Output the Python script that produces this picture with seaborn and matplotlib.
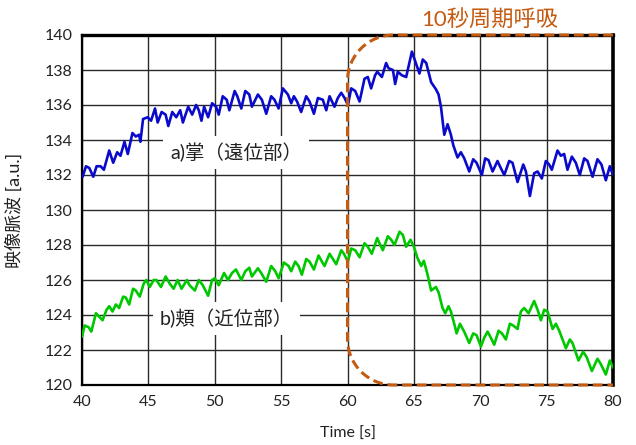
import matplotlib
matplotlib.use("Agg")
import matplotlib.pyplot as plt
from matplotlib.path import Path
from matplotlib.patches import PathPatch
import seaborn as sns
import pandas as pd

# --- palm (distal) video pulse wave ---
palm_t = [40.05, 40.3, 40.55, 40.85, 41.1, 41.4, 41.65, 42.05, 42.35, 42.65, 42.9, 43.2,
          43.45, 43.8, 44.05, 44.3, 44.4, 44.6, 44.95, 45.2, 45.5, 45.7, 46.0, 46.3,
          46.5, 46.8, 47.1, 47.4, 47.6, 48.0, 48.3, 48.6, 48.8, 49.0, 49.2, 49.5,
          49.8, 50.1, 50.3, 50.6, 50.9, 51.1, 51.5, 51.7, 52.0, 52.3, 52.6, 52.8,
          53.25, 53.55, 53.88, 54.25, 54.5, 54.81, 55.13, 55.51, 55.76, 55.96, 56.2, 56.51,
          56.89, 57.14, 57.47, 57.77, 58.14, 58.4, 58.65, 59.02, 59.27, 59.53, 59.78, 60.03,
          60.28, 60.58, 60.91, 61.28, 61.53, 61.78, 62.08, 62.24, 62.59, 62.91, 63.09, 63.42,
          63.59, 63.79, 64.09, 64.42, 64.85, 65.1, 65.42, 65.67, 65.93, 66.3, 66.66, 66.86,
          67.04, 67.29, 67.54, 67.79, 67.97, 68.29, 68.54, 68.79, 69.17, 69.47, 69.72, 70.12,
          70.37, 70.62, 70.93, 71.3, 71.48, 71.81, 72.18, 72.43, 72.81, 73.24, 73.44, 73.74,
          74.06, 74.32, 74.64, 74.94, 75.19, 75.39, 75.82, 76.07, 76.32, 76.57, 76.9, 77.2,
          77.5, 77.83, 78.08, 78.46, 78.83, 79.13, 79.46, 79.76, 80.0]
palm_v = [131.9, 132.5, 132.4, 131.9, 132.5, 132.5, 132.3, 133.4, 132.7, 133.3, 133.1, 133.9,
          133.2, 134.4, 134.2, 134.3, 133.9, 135.2, 135.3, 135.1, 135.8, 135.0, 135.6, 135.45,
          134.8, 135.6, 135.3, 135.7, 135.0, 135.9, 135.45, 136.0, 135.7, 135.1, 135.9, 135.3,
          136.1, 135.9, 135.45, 136.5, 136.3, 135.7, 136.8, 136.5, 135.8, 136.8, 136.6, 135.9,
          136.6, 136.3, 135.5, 136.5, 136.3, 135.8, 136.95, 136.6, 136.1, 136.5, 136.2, 135.6,
          136.5, 136.2, 135.5, 136.4, 136.3, 135.7, 136.5, 135.9, 136.4, 136.7, 136.4, 136.0,
          136.95, 136.8, 136.2, 137.5, 137.6, 136.95, 137.7, 137.9, 137.6, 138.4, 138.1, 138.0,
          137.2, 137.9, 137.7, 137.6, 139.05, 138.5, 137.8, 138.6, 138.4, 137.3, 136.9, 136.6,
          135.9, 134.3, 134.9, 134.3, 133.7, 133.0, 133.3, 132.96, 132.2, 132.9, 132.7, 132.0,
          132.95, 132.85, 132.2, 132.8, 132.5, 132.0, 132.8, 132.7, 131.6, 132.6, 132.2, 130.8,
          132.1, 132.2, 131.8, 132.8, 132.6, 132.3, 133.4, 133.1, 133.2, 132.3, 133.05, 132.7,
          132.0, 132.95, 132.8, 131.9, 132.9, 132.6, 131.7, 132.5, 132.0]

# --- cheek (proximal) video pulse wave ---
cheek_t = [40.0, 40.2, 40.5, 40.7, 41.05, 41.3, 41.55, 41.85, 42.05, 42.3, 42.55, 42.8,
           43.1, 43.3, 43.55, 43.85, 44.05, 44.35, 44.65, 44.85, 45.1, 45.4, 45.6, 45.95,
           46.3, 46.6, 46.9, 47.2, 47.5, 47.9, 48.1, 48.5, 48.8, 49.1, 49.5, 49.8,
           50.0, 50.3, 50.7, 51.0, 51.3, 51.6, 52.0, 52.3, 52.6, 52.8,
           53.25, 53.5, 53.88, 54.25, 54.56, 54.81, 55.21, 55.56, 55.76, 56.06, 56.31, 56.56,
           56.89, 57.14, 57.47, 57.82, 58.07, 58.27, 58.65, 58.9, 59.15, 59.53, 59.73, 60.03,
           60.28, 60.58, 60.91, 61.28, 61.53, 61.83, 62.24, 62.41, 62.66, 63.04, 63.29, 63.54,
           63.92, 64.17, 64.42, 64.75, 65.0, 65.25, 65.55, 65.75, 66.0, 66.3,
           66.66, 66.86, 67.16, 67.36, 67.61, 67.79, 68.04, 68.22, 68.47, 68.79, 69.17, 69.47,
           69.72, 70.05, 70.3, 70.55, 70.8, 71.05, 71.38, 71.63, 71.93, 72.23, 72.48, 72.81,
           73.06, 73.31, 73.64, 74.06, 74.32, 74.57, 74.82, 75.07, 75.45, 75.7, 75.95, 76.45,
           76.75, 76.95, 77.4, 77.75, 78.01, 78.41, 78.83, 79.08, 79.46, 79.76, 80.0]
cheek_v = [122.76, 123.4, 123.3, 123.05, 124.1, 123.9, 123.7, 124.3, 124.5, 124.2, 124.6, 124.4,
           125.05, 125.0, 124.6, 125.5, 125.4, 125.05, 125.8, 126.0, 125.6, 126.0, 126.0, 125.6,
           126.2, 125.8, 125.5, 126.0, 125.5, 126.0, 125.7, 125.4, 126.0, 125.7, 125.1, 126.0,
           126.1, 125.7, 126.4, 126.0, 126.4, 126.6, 126.0, 126.5, 126.7, 126.2,
           126.67, 126.4, 125.9, 126.8, 126.5, 126.1, 127.0, 126.8, 126.5, 127.05, 126.8, 126.3,
           127.2, 127.05, 126.6, 127.4, 127.05, 126.8, 127.5, 127.2, 126.9, 127.7, 127.5, 127.05,
           127.8, 127.7, 127.3, 128.1, 127.9, 127.5, 128.4, 128.1, 127.7, 128.5, 128.3, 128.0,
           128.76, 128.57, 127.9, 128.3, 127.9, 127.3, 126.8, 127.1, 126.4, 125.4,
           125.6, 125.3, 124.4, 124.1, 124.5, 124.2, 123.5, 122.95, 123.5, 123.05, 122.4, 122.95,
           122.85, 122.2, 122.7, 123.05, 122.7, 122.3, 123.1, 122.95, 122.6, 123.5, 123.4, 123.2,
           124.2, 124.4, 124.1, 124.8, 124.3, 123.7, 124.3, 124.2, 123.2, 123.5, 123.1, 122.1,
           122.6, 122.4, 121.4, 121.9, 121.6, 120.8, 121.5, 121.2, 120.6, 121.4, 121.0]

x_ticks = [40, 45, 50, 55, 60, 65, 70, 75, 80]
y_ticks = [120, 122, 124, 126, 128, 130, 132, 134, 136, 138, 140]

palm_label = "a)掌（遠位部）"
cheek_label = "b)頬（近位部）"
breath_label = "10秒周期呼吸"
breath_window = (60, 80)

sns.set_theme(style="white")
plt.rcParams["font.family"] = ["Lato", "Noto Sans CJK JP", "DejaVu Sans"]

fig = plt.figure(figsize=(6.36, 4.45), dpi=100)
ax = fig.add_axes([82 / 636, 1 - 385 / 445, (613 - 82) / 636, (385 - 35) / 445])

palm = pd.DataFrame({"t": palm_t, "v": palm_v})
cheek = pd.DataFrame({"t": cheek_t, "v": cheek_v})
sns.lineplot(data=palm, x="t", y="v", ax=ax, color="#0A0ACC", lw=1.9, zorder=3)
sns.lineplot(data=cheek, x="t", y="v", ax=ax, color="#00C800", lw=1.9, zorder=3)

ax.set_xlim(40, 80)
ax.set_ylim(120, 140)
ax.set_xticks(x_ticks)
ax.set_yticks(y_ticks)
ax.tick_params(length=0, labelsize=11.5, pad=7, colors="#222222")
ax.grid(True, color="#2a2a2a", lw=1.0)
for s in ax.spines.values():
    s.set_color("black")
    s.set_linewidth(1.6)
ax.spines["right"].set_linewidth(2.6)
ax.spines["top"].set_linewidth(2.4)

ax.set_xlabel("Time [s]", fontsize=11.5, color="#222222")
ax.set_ylabel("映像脈波 [a.u.]", fontsize=13, color="#222222")
ax.xaxis.set_label_coords(0.5, -0.12)
ax.yaxis.set_label_coords(-0.112, 0.5)

box = dict(boxstyle="square,pad=0.35", fc="white", ec="none")
ax.text(51.6, 133.3, palm_label, fontsize=14, ha="center", va="center",
        color="#222222", bbox=box, zorder=2.5)
ax.text(50.9, 123.8, cheek_label, fontsize=14, ha="center", va="center",
        color="#222222", bbox=box, zorder=2.5)

# dashed breathing window: rounded on the left, square on the right
fig.canvas.draw()
to_disp = ax.transData.transform
inv = ax.transAxes.inverted().transform
(x0, y0) = inv(to_disp((breath_window[0], 120)))
(x1, y1) = inv(to_disp((breath_window[1], 140)))
bb = ax.get_window_extent()
r_px = 46
rx, ry = r_px / bb.width, r_px / bb.height
k = 0.5523
verts = [
    (x1, y1), (x0 + rx, y1),
    (x0 + rx - k * rx, y1), (x0, y1 - ry + k * ry), (x0, y1 - ry),
    (x0, y0 + ry),
    (x0, y0 + ry - k * ry), (x0 + rx - k * rx, y0), (x0 + rx, y0),
    (x1, y0),
]
codes = [Path.MOVETO, Path.LINETO,
         Path.CURVE4, Path.CURVE4, Path.CURVE4,
         Path.LINETO,
         Path.CURVE4, Path.CURVE4, Path.CURVE4,
         Path.LINETO]
patch = PathPatch(Path(verts, codes), transform=ax.transAxes, fill=False,
                  ec="#C55A11", lw=2.2, ls=(0, (3.2, 1.6)), clip_on=False, zorder=5)
ax.add_patch(patch)

fig.text(490 / 636, 1 - 19 / 445, breath_label, fontsize=16, color="#C55A11",
         ha="center", va="center")

fig.savefig("out.png", dpi=100)
